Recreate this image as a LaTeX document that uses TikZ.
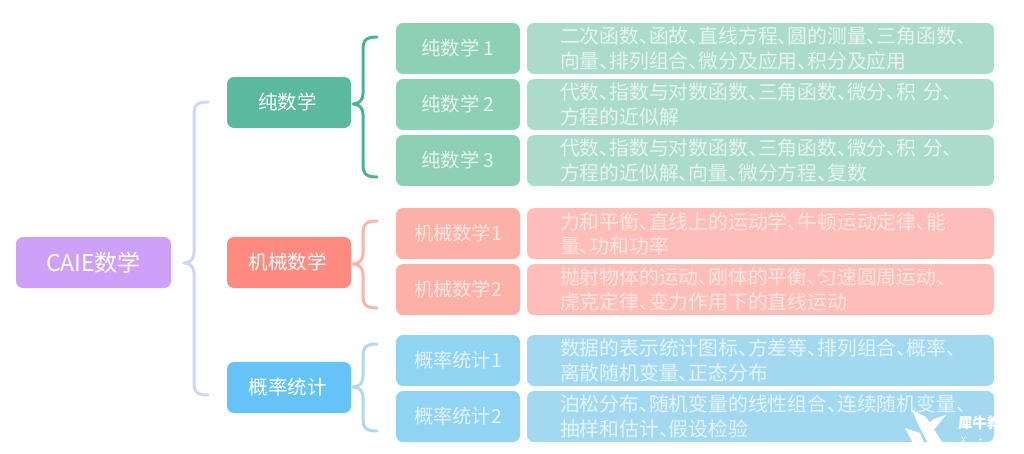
\documentclass[tikz,border=0pt]{standalone}
\usepackage{fontspec}
\setmainfont[RawFeature=+halt]{Noto Sans CJK SC}
\definecolor{rootc}{HTML}{CEA0F8}
\definecolor{gA}{HTML}{5BBA9B}\definecolor{gB}{HTML}{8ED0B4}\definecolor{gC}{HTML}{ABDCCB}\definecolor{gT}{HTML}{E6F5EF}
\definecolor{rA}{HTML}{FF8A80}\definecolor{rB}{HTML}{FDB0A5}\definecolor{rC}{HTML}{FFBDB8}\definecolor{rT}{HTML}{FFE6E3}
\definecolor{bA}{HTML}{66C3F8}\definecolor{bB}{HTML}{90D3F3}\definecolor{bC}{HTML}{A3D9F0}\definecolor{bT}{HTML}{E3F4FC}
\definecolor{lavb}{HTML}{CFD5F7}\definecolor{grb}{HTML}{4FB393}\definecolor{rdb}{HTML}{FDB4A8}\definecolor{blb}{HTML}{B0D8EE}
\tikzset{
  x=1pt,y=-1pt,
  boxbase/.style={rounded corners=7pt,inner sep=0pt,outer sep=0pt,anchor=north west},
  rootbox/.style={boxbase,fill=rootc,minimum width=155pt,minimum height=51pt,text=white,font=\fontsize{23}{24}\selectfont},
  midbox/.style={boxbase,minimum width=124pt,minimum height=51pt,text=white,font=\fontsize{19.5}{24}\selectfont},
  subbox/.style={boxbase,minimum width=124pt,minimum height=51pt,font=\fontsize{19.3}{24}\selectfont},
  descbox/.style={boxbase,minimum width=467pt,minimum height=51pt,text width=467pt,align=left,font=\fontsize{19.8}{24.2}\selectfont},
  bracel/.style={line width=3pt,line cap=round,line join=round},
}
\newcommand{\lns}[2]{\hspace*{33pt}\raisebox{-2.8pt}{#1}\\\hspace*{33pt}\raisebox{-2.8pt}{#2}}
\newcommand{\nudge}[1]{\hspace*{-3pt}\raisebox{-2.5pt}{#1}}
% name, tip y, top y, bottom y, tip x, colour
\newcommand{\brc}[6]{%
  \coordinate (#1top) at (#5+24,#3);
  \coordinate (#1bot) at (#5+24,#4);
  \coordinate (#1tip) at (#5,#2);
  \draw[bracel,#6] (#1top) .. controls (#5+13,#3) and (#5+10,#3+3) .. (#5+10,#3+13)
    -- (#5+10,#2-10) .. controls (#5+10,#2-4) and (#5+6,#2) .. (#1tip)
    .. controls (#5+6,#2) and (#5+10,#2+4) .. (#5+10,#2+10)
    -- (#5+10,#4-13) .. controls (#5+10,#4-3) and (#5+13,#4) .. (#1bot);
}
\begin{document}
\begin{tikzpicture}
\useasboundingbox (0,0) rectangle (1024,453);
\fill[white] (0,0) rectangle (1024,453);
\node[rootbox] (root) at (16,237) {\raisebox{-2pt}{CAIE数学}};
\node[midbox,fill=gA] (pure) at (227,77) {\nudge{纯数学}};
\node[midbox,fill=rA] (mech) at (227,237) {\nudge{机械数学}};
\node[midbox,fill=bA] (stat) at (227,362) {\nudge{概率统计}};
\brc{o}{263}{102}{395}{184}{lavb}
\brc{g}{104}{37}{177}{353}{grb}
\brc{r}{264}{221}{308}{353}{rdb}
\brc{b}{387}{344}{431}{353}{blb}
\node[subbox,fill=gB,text=gT] (p1) at (396,23) {\raisebox{-2pt}{纯数学 1}};
\node[subbox,fill=gB,text=gT] (p2) at (396,79) {\raisebox{-2pt}{纯数学 2}};
\node[subbox,fill=gB,text=gT] (p3) at (396,135) {\raisebox{-2pt}{纯数学 3}};
\node[subbox,fill=rB,text=rT] (m1) at (396,208) {\raisebox{-2pt}{机械数学1}};
\node[subbox,fill=rB,text=rT] (m2) at (396,264) {\raisebox{-2pt}{机械数学2}};
\node[subbox,fill=bB,text=bT] (s1) at (396,335) {\raisebox{-2pt}{概率统计1}};
\node[subbox,fill=bB,text=bT] (s2) at (396,391) {\raisebox{-2pt}{概率统计2}};
\node[descbox,fill=gC,text=gT] (dp1) at (527,23) {\lns{二次函数、函故、直线方程、圆的测量、三角函数、}{向量、排列组合、微分及应用、积分及应用}};
\node[descbox,fill=gC,text=gT] (dp2) at (527,79) {\lns{代数、指数与对数函数、三角函数、微分、积 分、}{方程的近似解}};
\node[descbox,fill=gC,text=gT] (dp3) at (527,135) {\lns{代数、指数与对数函数、三角函数、微分、积 分、}{方程的近似解、向量、微分方程、复数}};
\node[descbox,fill=rC,text=rT] (dm1) at (527,208) {\lns{力和平衡、直线上的运动学、牛顿运动定律、能}{量、功和功率}};
\node[descbox,fill=rC,text=rT] (dm2) at (527,264) {\lns{抛射物体的运动、刚体的平衡、匀速圆周运动、}{虎克定律、变力作用下的直线运动}};
\node[descbox,fill=bC,text=bT] (ds1) at (527,335) {\lns{数据的表示统计图标、方差等、排列组合、概率、}{离散随机变量、正态分布}};
\node[descbox,fill=bC,text=bT] (ds2) at (527,391) {\lns{泊松分布、随机变量的线性组合、连续随机变量、}{抽样和估计、假设检验}};
% watermark
\begin{scope}
\clip (900,405) rectangle (994,445);
\fill[white] (912,410) -- (926,417) -- (944,445) -- (929,445) -- (919,426) -- cycle;
\fill[white] (946,415) -- (931,433) -- (924,426) -- (934,419) -- cycle;
\fill[white] (905,428) -- (920,433) -- (925,445) -- (914,445) -- cycle;
\node[text=white,inner sep=0pt,anchor=west,font=\bfseries\fontsize{14.5}{16}\selectfont] (wm) at (958,423) {犀牛教};
\node[text=white,inner sep=0pt,anchor=west,font=\fontsize{9}{10}\selectfont] (wmb) at (961,440) {X\hspace{12pt}·\hspace{10pt}N};
\end{scope}
\end{tikzpicture}
\end{document}
